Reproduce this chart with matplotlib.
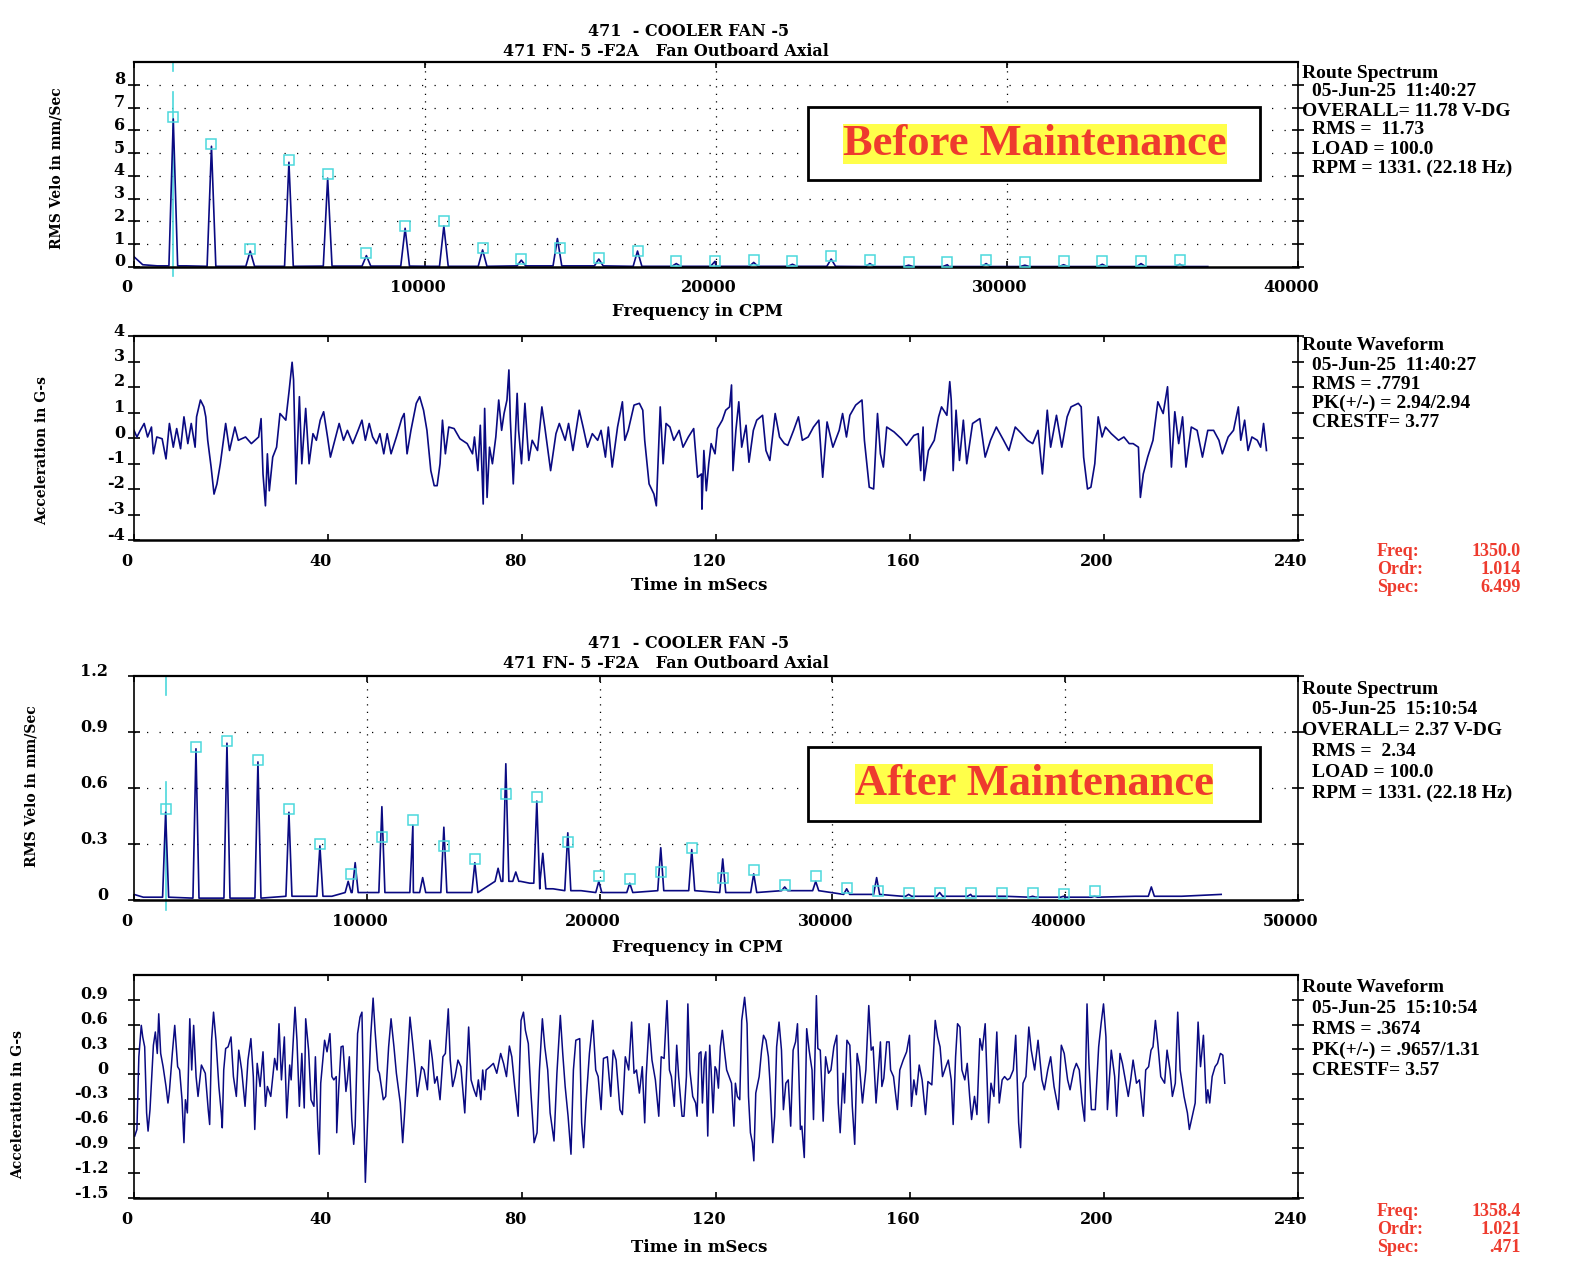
import matplotlib
matplotlib.use("Agg")
import matplotlib.pyplot as plt
from matplotlib.patches import Rectangle
from matplotlib.transforms import ScaledTranslation

# ---- spectrum before maintenance (CPM, in/sec) ----
BEFORE_PEAK_CPM = [1350, 2662, 3993, 5324, 6655, 7986, 9317, 10648, 11979, 13310, 14550, 15972, 17303, 18634,
                   19965, 21296, 22627, 23958, 25289, 26620, 27951, 29282, 30613, 31944, 33275, 34606, 35937]
BEFORE_PEAK_AMP = [6.5, 5.3, 0.7, 4.6, 3.9, 0.5, 1.7, 1.8, 0.75, 0.3, 1.25, 0.35, 0.7, 0.15,
                   0.25, 0.2, 0.12, 0.35, 0.15, 0.08, 0.1, 0.15, 0.08, 0.1, 0.12, 0.15, 0.12]
BEFORE_MARK_CPM = [1350, 2662, 3993, 5324, 6655, 7986, 9317, 10648, 11979, 13310, 14641, 15972, 17303, 18634,
                   19965, 21296, 22627, 23958, 25289, 26620, 27951, 29282, 30613, 31944, 33275, 34606, 35937]
BEFORE_MARK_AMP = [6.6, 5.4, 0.8, 4.7, 4.1, 0.6, 1.8, 2.0, 0.85, 0.35, 0.85, 0.4, 0.7, 0.25,
                   0.25, 0.3, 0.26, 0.47, 0.32, 0.22, 0.22, 0.32, 0.22, 0.26, 0.26, 0.26, 0.32]
BEFORE_FLOOR_CPM = [0, 300, 800, 1800, 3500, 8500, 10200, 14000, 20000, 28000, 36900]
BEFORE_FLOOR_AMP = [0.45, 0.1, 0.05, 0.05, 0.03, 0.04, 0.03, 0.05, 0.03, 0.02, 0.02]

# ---- spectrum after maintenance ----
AFTER_PEAK_CPM = [1358, 2662, 3993, 5324, 6655, 7986, 9200, 9500, 10648, 11979, 12400, 13310, 14641, 15640,
                  15972, 16400, 17303, 17560, 18634, 19965, 21296, 22627, 23958, 25289, 26620, 27951, 29282,
                  30613, 31900, 33275, 34606, 35937, 37268, 38599, 39930, 41261, 43700]
AFTER_PEAK_AMP = [0.47, 0.81, 0.84, 0.74, 0.47, 0.29, 0.1, 0.2, 0.5, 0.4, 0.12, 0.39, 0.2, 0.17,
                  0.73, 0.15, 0.53, 0.25, 0.36, 0.1, 0.09, 0.28, 0.27, 0.22, 0.14, 0.07, 0.1,
                  0.06, 0.12, 0.03, 0.04, 0.03, 0.02, 0.02, 0.02, 0.02, 0.07]
AFTER_MARK_CPM = [1358, 2662, 3993, 5324, 6655, 7986, 9317, 10648, 11979, 13310, 14641, 15972, 17303, 18634,
                  19965, 21296, 22627, 23958, 25289, 26620, 27951, 29282, 30613, 31944, 33275, 34606, 35937,
                  37268, 38599, 39930, 41261]
AFTER_MARK_AMP = [0.49, 0.82, 0.85, 0.75, 0.49, 0.3, 0.14, 0.34, 0.43, 0.29, 0.22, 0.57, 0.55, 0.31,
                  0.13, 0.11, 0.15, 0.28, 0.12, 0.16, 0.08, 0.13, 0.065, 0.05, 0.036, 0.036, 0.04,
                  0.036, 0.036, 0.03, 0.05]
AFTER_FLOOR_CPM = [0, 400, 3000, 8500, 9800, 12000, 14500, 16600, 17000, 18000, 19200, 20500, 23000, 26000,
                   29000, 31000, 33000, 36000, 40000, 43000, 45000, 46700]
AFTER_FLOOR_AMP = [0.03, 0.015, 0.01, 0.02, 0.04, 0.04, 0.04, 0.1, 0.09, 0.06, 0.05, 0.04, 0.05, 0.04,
                   0.05, 0.03, 0.02, 0.02, 0.015, 0.02, 0.02, 0.03]

# ---- waveform before maintenance (ms, G-s) ----
BEFORE_T = [0.0, 0.6, 1.3, 2.1, 2.8, 3.6, 4.0, 4.7, 5.8, 6.6, 7.3, 8.1, 8.8, 9.6, 10.3, 11.1, 11.8, 12.6, 12.9,
            13.7, 14.4, 14.8, 15.2, 15.9, 16.5, 17.1, 17.8, 18.9, 19.7, 20.8, 21.5, 23.0, 24.2, 25.7, 26.2, 26.6,
            27.1, 27.5, 27.9, 28.6, 29.4, 30.1, 31.3, 32.0, 32.6, 32.9, 33.4, 33.7, 34.1, 34.6, 35.4, 36.1, 36.9,
            37.6, 38.4, 39.1, 39.9, 40.5, 41.4, 42.3, 43.2, 44.0, 45.1, 46.2, 47.0, 47.7, 48.5, 49.2, 50.0, 50.7,
            51.5, 52.2, 53.0, 54.1, 55.2, 55.7, 56.3, 57.1, 58.2, 58.9, 59.7, 60.4, 61.2, 61.9, 62.5, 63.1, 63.6,
            64.2, 64.9, 66.0, 67.2, 68.7, 69.8, 70.2, 70.9, 71.4, 72.0, 72.3, 72.8, 73.3, 73.9, 74.6, 75.2, 75.8,
            76.3, 76.9, 77.3, 77.6, 78.2, 79.0, 79.3, 79.9, 80.6, 81.4, 82.1, 83.2, 84.1, 84.7, 85.9, 87.0, 87.7,
            88.9, 89.6, 90.5, 91.8, 92.6, 93.5, 94.5, 95.6, 96.3, 97.2, 97.8, 98.6, 99.7, 100.7, 101.2, 101.9,
            103.1, 104.2, 104.9, 105.3, 106.2, 107.2, 107.7, 108.5, 109.1, 109.7, 110.5, 111.3, 112.4, 113.2,
            114.3, 115.4, 116.2, 117.0, 117.1, 117.5, 118.0, 118.5, 119.0, 119.8, 120.3, 121.3, 122.0, 122.8,
            123.2, 123.5, 124.1, 124.7, 125.3, 126.2, 126.8, 127.7, 128.4, 129.6, 130.3, 131.1, 132.2, 133.1,
            134.1, 134.8, 136.0, 137.0, 137.8, 139.0, 140.1, 141.2, 142.0, 142.9, 144.1, 145.4, 146.1, 146.9,
            147.6, 148.8, 150.1, 150.6, 151.6, 152.5, 153.3, 153.9, 154.5, 155.2, 156.7, 158.2, 159.3, 160.8,
            161.7, 162.2, 162.7, 162.9, 163.8, 165.0, 165.9, 166.5, 167.6, 168.2, 168.5, 168.9, 169.5, 170.2,
            171.0, 171.7, 172.9, 174.4, 175.5, 176.6, 177.8, 179.3, 180.4, 181.7, 183.0, 184.2, 185.3, 186.4,
            187.3, 188.3, 189.0, 190.2, 191.3, 192.4, 193.2, 194.7, 195.3, 195.8, 196.6, 197.3, 198.1, 198.8,
            199.6, 200.3, 201.5, 203.0, 204.1, 205.2, 206.0, 207.1, 207.5, 208.1, 209.0, 210.1, 211.1, 212.2,
            213.1, 213.9, 214.6, 215.4, 216.2, 216.9, 218.0, 219.2, 220.3, 221.4, 222.6, 223.7, 224.4, 225.6,
            226.7, 227.7, 228.2, 229.0, 229.7, 230.5, 231.6, 232.3, 232.9, 233.5]
BEFORE_G = [0.3, 0.04, 0.3, 0.57, 0.04, 0.43, -0.62, 0.04, -0.03, -0.82, 0.57, -0.36, 0.37, -0.42, 0.83, -0.22,
            0.57, -0.36, 0.83, 1.49, 1.22, 0.83, -0.09, -1.14, -2.2, -1.8, -1.01, 0.57, -0.49, 0.43, -0.09, 0.04,
            -0.22, 0.04, 0.76, -1.41, -2.66, -0.62, -2.07, -0.75, -0.36, 0.96, 0.7, 1.88, 2.97, 2.28, -1.8, -0.36,
            1.62, -1.01, 1.16, -1.01, 0.17, -0.09, 0.7, 1.03, 0.04, -0.75, -0.09, 0.57, -0.09, 0.3, -0.22, 0.3,
            0.7, -0.09, 0.57, 0.04, -0.22, 0.17, -0.62, 0.17, -0.62, 0.04, 0.76, 0.96, -0.62, 0.3, 1.36, 1.62,
            1.09, 0.3, -1.28, -1.87, -1.87, -1.01, 0.7, -0.62, 0.43, 0.37, -0.03, -0.22, -0.62, 0.04, -1.28, 0.5,
            -2.59, 1.16, -2.33, -0.36, -1.01, 0.04, 1.49, 0.3, 0.96, 1.49, 2.67, 0.7, -1.8, 1.75, 0.3, -1.01,
            1.36, -0.88, -0.09, -0.49, 1.22, 0.43, -1.28, 0.17, 0.57, -0.09, 0.57, -0.49, 1.09, 0.43, -0.36,
            0.17, -0.09, 0.3, -0.75, 0.43, -1.14, 0.43, 1.42, -0.09, 0.3, 1.29, 1.36, 1.09, -0.09, -1.8, -2.2,
            -2.66, 1.22, -1.01, 0.57, 0.43, -0.09, 0.3, -0.36, 0.04, 0.37, -1.54, -1.41, -2.79, -0.49, -2.07,
            -1.01, -0.22, -0.62, 0.37, 0.7, 1.09, 1.22, 2.08, -1.28, 0.3, 1.42, -0.36, 0.5, -0.95, 0.3, 0.7,
            0.89, -0.49, -0.88, 0.96, 0.04, -0.22, -0.29, 0.3, 0.83, -0.09, 0.04, 0.43, 0.7, -1.54, 0.63, -0.36,
            0.3, 0.96, 0.04, 0.89, 1.29, 1.49, -0.09, -1.93, -2.0, 0.96, -0.62, -1.14, 0.43, 0.24, -0.03, -0.29,
            0.1, 0.17, -1.28, 0.43, -1.67, -0.49, -0.09, 0.83, 1.22, 0.89, 2.21, 1.49, -1.28, 1.09, -0.88, 0.7,
            -1.01, 0.57, 0.76, -0.75, -0.09, 0.43, -0.09, -0.49, 0.43, 0.17, -0.09, -0.22, 0.3, -1.41, 1.09,
            -0.36, 0.89, -0.36, 0.83, 1.22, 1.36, 1.22, -0.75, -2.0, -1.93, -1.01, 0.83, 0.04, 0.43, 0.17, -0.09,
            0.04, -0.22, -0.22, -0.36, -2.33, -1.41, -0.75, -0.09, 1.42, 0.96, 2.01, -1.14, 1.03, -0.22, 0.83,
            -1.14, 0.43, 0.3, -0.75, 0.3, 0.3, -0.09, -0.62, 0.04, 0.3, 1.22, -0.09, 0.7, -0.49, 0.04, -0.09,
            -0.36, 0.57, -0.49]

# ---- waveform after maintenance (ms, G-s) ----
AFTER_T = [0.15, 0.6, 1.0, 1.5, 1.8, 2.2, 2.6, 2.9, 3.3, 4.0, 4.4, 4.8, 5.1, 5.5, 6.0, 6.6, 7.0, 7.3, 7.9, 8.4,
           9.0, 9.4, 9.9, 10.3, 10.6, 11.0, 11.5, 11.9, 12.3, 12.8, 13.2, 13.9, 14.7, 15.3, 15.6, 16.0, 16.4,
           16.9, 17.5, 18.0, 18.2, 18.5, 18.9, 19.4, 20.0, 20.5, 21.1, 21.6, 22.2, 22.9, 23.5, 24.1, 24.6, 24.9,
           25.4, 26.0, 26.6, 27.1, 27.5, 28.2, 29.0, 29.5, 29.9, 30.4, 31.0, 31.5, 32.1, 32.4, 33.2, 33.6, 34.1,
           34.6, 35.1, 35.4, 36.0, 36.5, 37.1, 37.4, 37.9, 38.2, 38.5, 39.3, 39.8, 40.4, 40.8, 41.2, 41.7, 41.8,
           42.2, 42.7, 43.1, 43.7, 44.0, 44.4, 44.9, 45.3, 45.6, 46.1, 46.6, 47.0, 47.3, 47.7, 48.3, 48.8, 49.3,
           49.7, 50.3, 50.6, 51.4, 51.9, 52.5, 53.0, 53.6, 54.1, 54.9, 55.4, 55.8, 56.3, 56.9, 57.4, 58.0, 58.4,
           58.8, 59.3, 59.8, 60.5, 61.0, 61.5, 62.0, 62.5, 63.1, 63.7, 64.2, 64.8, 65.2, 65.7, 66.2, 66.8, 67.4,
           68.2, 69.0, 69.5, 70.1, 70.6, 71.0, 71.5, 71.9, 72.3, 72.6, 73.4, 74.1, 74.8, 75.6, 76.2, 76.8, 77.4,
           77.9, 78.5, 79.2, 79.8, 80.3, 80.7, 81.3, 81.8, 82.5, 83.1, 83.6, 84.2, 84.7, 85.3, 85.8, 86.6, 87.2,
           87.9, 88.4, 88.9, 89.5, 90.1, 90.6, 91.1, 91.9, 92.3, 92.7, 93.2, 93.9, 94.6, 95.2, 95.7, 96.3, 96.8,
           97.6, 98.3, 98.8, 99.4, 100.2, 100.7, 101.3, 102.0, 102.6, 103.1, 103.6, 104.2, 104.8, 105.3, 105.6,
           106.2, 106.8, 107.5, 108.2, 108.7, 109.3, 109.9, 110.4, 110.8, 111.4, 111.9, 112.3, 113.0, 113.4,
           113.9, 114.2, 114.6, 115.2, 115.8, 116.1, 116.5, 116.9, 117.2, 117.6, 117.9, 118.3, 118.7, 119.0,
           119.4, 119.8, 120.1, 120.5, 120.9, 121.3, 121.8, 122.2, 122.7, 123.2, 123.7, 124.0, 124.4, 124.9,
           125.3, 125.9, 126.4, 126.7, 127.1, 127.5, 127.8, 128.2, 128.9, 129.4, 129.8, 130.3, 130.8, 131.1,
           131.7, 132.1, 132.5, 133.0, 133.5, 133.9, 134.4, 134.9, 135.4, 135.9, 136.4, 136.8, 137.4, 137.7,
           138.2, 138.7, 139.2, 139.8, 140.1, 140.7, 141.0, 141.5, 142.1, 142.6, 143.2, 143.7, 144.3, 144.9,
           145.2, 145.6, 146.2, 146.5, 147.0, 147.6, 148.1, 148.6, 149.1, 149.6, 150.2, 150.9, 151.5, 152.0,
           152.4, 153.0, 153.5, 153.9, 154.2, 154.6, 155.2, 155.7, 156.0, 156.6, 157.4, 157.9, 158.6, 159.3,
           159.9, 160.3, 160.8, 161.3, 161.9, 162.5, 163.2, 163.7, 164.5, 164.8, 165.2, 165.7, 166.2, 166.7,
           167.4, 167.9, 168.5, 168.9, 169.4, 169.8, 170.3, 170.7, 171.3, 171.8, 172.3, 172.7, 173.3, 173.8,
           174.4, 174.9, 175.5, 176.2, 176.7, 177.3, 177.9, 178.4, 179.0, 179.5, 180.1, 180.6, 181.3, 181.8,
           182.4, 182.8, 183.3, 183.9, 184.5, 185.0, 185.7, 186.4, 187.2, 187.7, 188.4, 189.0, 189.7, 190.6,
           191.2, 191.8, 192.5, 193.0, 193.8, 194.3, 194.9, 195.5, 196.0, 196.5, 196.9, 197.4, 198.2, 198.9,
           199.4, 199.9, 200.4, 200.7, 201.5, 202.2, 202.6, 203.3, 203.8, 204.4, 205.0, 205.5, 206.0, 206.7,
           207.3, 208.1, 208.6, 209.2, 209.7, 210.1, 210.6, 211.1, 211.7, 212.5, 213.0, 213.6, 214.1, 214.7,
           215.2, 215.7, 216.5, 217.2, 217.6, 218.2, 218.8, 219.4, 219.9, 220.5, 221.1, 221.4, 221.8, 222.3,
           222.9, 223.4, 224.0, 224.5, 224.9]
AFTER_G = [-0.75, -0.67, 0.21, 0.59, 0.45, 0.33, -0.47, -0.69, -0.43, 0.35, 0.51, 0.25, 0.73, 0.25, 0.09, -0.15,
           -0.35, -0.21, 0.25, 0.59, 0.09, 0.05, -0.31, -0.83, -0.31, -0.47, 0.67, 0.05, 0.59, -0.03, -0.27,
           0.11, 0.01, -0.43, -0.61, 0.41, 0.75, 0.41, -0.15, -0.47, -0.65, 0.05, 0.31, 0.33, 0.45, -0.03,
           -0.27, 0.29, 0.05, -0.39, 0.17, 0.43, -0.03, -0.67, 0.13, -0.15, 0.27, -0.39, -0.15, -0.27, 0.19,
           0.05, 0.61, -0.07, 0.45, -0.53, 0.11, -0.07, 0.81, 0.41, -0.39, 0.25, -0.41, 0.67, 0.29, -0.31,
           -0.39, 0.21, -0.63, -0.97, -0.11, 0.41, 0.27, 0.49, -0.03, -0.07, -0.03, -0.71, -0.19, 0.33, 0.34,
           -0.21, -0.07, 0.21, -0.55, -0.85, -0.63, 0.49, 0.69, 0.75, -0.19, -1.31, -0.35, 0.45, 0.92, 0.53,
           0.05, 0.01, -0.31, -0.27, 0.33, 0.67, 0.33, 0.01, -0.35, -0.83, -0.47, 0.05, 0.69, 0.41, 0.05, -0.27,
           -0.11, 0.09, 0.05, -0.19, 0.41, 0.19, -0.11, -0.03, -0.31, 0.21, 0.25, 0.79, 0.17, -0.15, -0.03,
           0.17, 0.09, -0.47, 0.57, -0.07, -0.19, -0.27, -0.07, -0.31, 0.05, -0.19, 0.05, 0.09, 0.13, 0.01,
           0.25, 0.13, -0.03, 0.34, 0.21, -0.15, -0.51, 0.65, 0.75, 0.53, 0.37, -0.19, -0.83, -0.71, 0.05,
           0.67, 0.33, 0.05, -0.47, -0.81, 0.01, 0.71, 0.25, -0.15, -0.51, -0.97, 0.05, 0.41, 0.43, -0.59,
           -0.89, -0.35, 0.25, 0.65, 0.05, -0.03, -0.43, 0.19, 0.21, -0.27, 0.29, 0.17, -0.43, -0.49, 0.21,
           0.05, 0.63, 0.01, 0.05, -0.23, 0.09, -0.59, -0.03, 0.61, 0.17, -0.07, -0.51, 0.21, 0.19, 0.89, 0.05,
           -0.03, -0.39, 0.35, -0.03, -0.51, -0.51, -0.03, 0.85, 0.05, -0.27, -0.35, -0.51, 0.25, 0.27, -0.35,
           0.17, 0.27, -0.75, 0.35, 0.05, -0.47, 0.09, 0.05, -0.17, 0.33, 0.53, 0.25, 0.05, -0.03, -0.11, -0.63,
           -0.11, -0.27, -0.31, 0.65, 0.93, 0.61, -0.27, -0.71, -0.83, -1.05, -0.23, -0.03, 0.29, 0.47, 0.41,
           0.21, -0.07, -0.83, -0.51, 0.33, 0.63, 0.29, -0.43, -0.11, -0.07, -0.63, 0.29, 0.39, 0.61, -0.67,
           -0.63, -1.01, 0.55, 0.29, 0.05, -0.55, 0.95, 0.31, 0.29, -0.57, 0.21, 0.01, 0.05, 0.33, 0.47, -0.35,
           -0.71, 0.01, -0.35, 0.41, 0.35, -0.39, -0.85, 0.25, 0.09, -0.35, 0.05, 0.83, 0.29, 0.33, -0.35, 0.05,
           0.39, -0.15, -0.05, 0.39, 0.39, 0.05, -0.03, -0.43, 0.05, 0.17, 0.27, 0.47, -0.39, -0.07, -0.25,
           0.11, -0.07, -0.49, -0.09, -0.13, 0.21, 0.65, 0.45, 0.33, -0.03, 0.09, 0.17, -0.07, -0.61, 0.21, 0.61,
           0.57, 0.05, -0.07, 0.13, -0.27, -0.55, -0.27, -0.49, 0.43, 0.29, 0.61, -0.59, -0.11, -0.27, 0.51,
           -0.35, -0.07, -0.03, -0.07, -0.05, 0.05, 0.47, -0.59, -0.89, -0.11, -0.03, 0.57, 0.29, 0.05, 0.41,
           -0.07, -0.19, 0.05, 0.21, -0.15, -0.43, 0.35, 0.25, -0.07, -0.19, 0.05, 0.13, 0.05, -0.35, -0.57,
           0.85, 0.13, -0.43, -0.43, 0.33, 0.61, 0.85, 0.45, -0.43, 0.29, -0.03, -0.51, 0.25, 0.13, -0.07,
           -0.27, -0.07, 0.17, -0.11, -0.07, -0.51, 0.05, 0.09, 0.29, 0.33, 0.65, 0.37, -0.03, -0.11, 0.29,
           0.05, -0.27, -0.11, 0.75, 0.05, -0.27, -0.47, -0.67, -0.51, -0.35, 0.63, 0.09, 0.47, -0.35, -0.19,
           -0.35, -0.03, 0.09, 0.13, 0.25, 0.23, -0.11]

SPEC_X_TICKS_1 = [0, 10000, 20000, 30000, 40000]
SPEC_Y_TICKS_1 = [0, 1, 2, 3, 4, 5, 6, 7, 8]
WAVE_Y_TICKS_1 = [-4, -3, -2, -1, 0, 1, 2, 3, 4]
SPEC_X_TICKS_2 = [0, 10000, 20000, 30000, 40000, 50000]
SPEC_Y_TICKS_2 = [0, 0.3, 0.6, 0.9, 1.2]
SPEC_Y_LABELS_2 = ['0', '0.3', '0.6', '0.9', '1.2']
WAVE_Y_TICKS_2 = [-1.5, -1.2, -0.9, -0.6, -0.3, 0, 0.3, 0.6, 0.9]
WAVE_Y_LABELS_2 = ['-1.5', '-1.2', '-0.9', '-0.6', '-0.3', '0', '0.3', '0.6', '0.9']
TIME_TICKS = [0, 40, 80, 120, 160, 200, 240]

INFO_BEFORE_SPEC = ['Route Spectrum', ' 05-Jun-25  11:40:27', 'OVERALL= 11.78 V-DG', ' RMS =  11.73',
                    ' LOAD = 100.0', ' RPM = 1331. (22.18 Hz)']
INFO_BEFORE_WAVE = ['Route Waveform', ' 05-Jun-25  11:40:27', ' RMS = .7791', ' PK(+/-) = 2.94/2.94',
                    ' CRESTF= 3.77']
INFO_AFTER_SPEC = ['Route Spectrum', ' 05-Jun-25  15:10:54', 'OVERALL= 2.37 V-DG', ' RMS =  2.34',
                   ' LOAD = 100.0', ' RPM = 1331. (22.18 Hz)']
INFO_AFTER_WAVE = ['Route Waveform', ' 05-Jun-25  15:10:54', ' RMS = .3674', ' PK(+/-) = .9657/1.31',
                   ' CRESTF= 3.57']
CURSOR_BEFORE = ['1350.0', '1.014', '6.499']
CURSOR_AFTER = ['1358.4', '1.021', '.471']

W, H = 1584, 1278
NAVY = '#0a0a82'
CYAN = '#4cd8dc'
RED = '#ee3b2e'

plt.rcParams['font.family'] = ['DejaVu Serif']
plt.rcParams['font.weight'] = 'bold'
plt.rcParams['axes.labelweight'] = 'bold'

fig = plt.figure(figsize=(W / 100, H / 100), dpi=100)


def fx(x):
    return x / W


def fy(y):
    return 1 - y / H


def panel(top, bottom):
    return fig.add_axes([fx(134), fy(bottom), 1164 / W, (bottom - top) / H])


def spectrum_line(peak_f, peak_a, floor_f, floor_a, half_width):
    pts = list(zip(floor_f, floor_a))
    for f, a in zip(peak_f, peak_a):
        i = min(range(len(floor_f)), key=lambda k: abs(floor_f[k] - f))
        pts += [(f - half_width, floor_a[i]), (f, a), (f + half_width, floor_a[i])]
    pts.sort()
    return [p[0] for p in pts], [p[1] for p in pts]


def style(ax, xticks, yticks, ylabels, label_pad):
    ax.set_xticks(xticks)
    ax.set_xticklabels([str(t) for t in xticks])
    ax.set_yticks(yticks)
    ax.set_yticklabels(ylabels)
    ax.tick_params(axis='x', direction='in', length=4, width=1.2, top=True, bottom=True,
                   labelsize=11.5, pad=9)
    ax.tick_params(axis='y', direction='inout', length=9, width=1.2, left=True, right=True,
                   labelsize=11.5, pad=label_pad)
    for s in ax.spines.values():
        s.set_linewidth(1.2)
    ax.spines['bottom'].set_linewidth(1.8)
    ax.spines['top'].set_linewidth(1.6)
    shift_x = ScaledTranslation(-0.07, 0, fig.dpi_scale_trans)
    shift_y = ScaledTranslation(0, 0.07, fig.dpi_scale_trans)
    for lbl in ax.get_xticklabels():
        lbl.set_transform(lbl.get_transform() + shift_x)
    for lbl in ax.get_yticklabels():
        lbl.set_transform(lbl.get_transform() + shift_y)


def dotted_grid(ax, xs, ys):
    for y in ys:
        ax.axhline(y, color='black', lw=0.9, ls=(0, (1, 9)), zorder=0)
    for x in xs:
        ax.axvline(x, color='black', lw=0.9, ls=(0, (1, 5)), zorder=0)


def ylab(ax, text, x_px, y_frac):
    ax.set_ylabel(text, fontsize=10, fontweight='bold', va='center')
    ax.yaxis.set_label_coords((x_px - 134) / 1164, y_frac)


def info(lines, y0, step):
    for i, line in enumerate(lines):
        x = 1302 if not line.startswith(' ') else 1312
        fig.text(fx(x), fy(y0 + i * step), line.strip(), family='Liberation Serif', weight='bold',
                 fontsize=14, va='center', ha='left')


def cursor_text(values, y0):
    for i, (name, val) in enumerate(zip(['Freq:', 'Ordr:', 'Spec:'], values)):
        fig.text(fx(1377), fy(y0 + i * 17.5), name, color=RED, family='Liberation Serif',
                 weight='bold', fontsize=13, va='center', ha='left')
        fig.text(fx(1521), fy(y0 + i * 17.5), val, color=RED, family='Liberation Serif',
                 weight='bold', fontsize=13, va='center', ha='right')


def titles(y1, y2):
    fig.text(fx(689), fy(y1), '471  - COOLER FAN -5', ha='center', va='center', fontsize=11.5)
    fig.text(fx(666), fy(y2), '471 FN- 5 -F2A   Fan Outboard Axial', ha='center', va='center', fontsize=11.5)


def banner(text, box, center):
    x0, y0, x1, y1 = box
    fig.patches.append(Rectangle((fx(x0), fy(y1)), (x1 - x0) / W, (y1 - y0) / H, transform=fig.transFigure,
                                 facecolor='white', edgecolor='black', lw=2, zorder=5))
    fig.text(fx(center[0]), fy(center[1]), text, color=RED, family='Liberation Serif', weight='bold',
             fontsize=32, ha='center', va='center', zorder=6,
             bbox=dict(facecolor='#ffff4a', edgecolor='none', boxstyle='square,pad=0'))


# ---- panel 1: spectrum before ----
ax1 = panel(62, 267)
fx1, fa1 = spectrum_line(BEFORE_PEAK_CPM, BEFORE_PEAK_AMP, BEFORE_FLOOR_CPM, BEFORE_FLOOR_AMP, 150)
ax1.plot([1350, 1350], [9, 8.6], color=CYAN, lw=1.2, zorder=1)
ax1.plot([1350, 1350], [7.7, -0.4], color=CYAN, lw=1.2, zorder=1, clip_on=False)
ax1.plot(fx1, fa1, color=NAVY, lw=1.2, zorder=2)
ax1.plot(BEFORE_MARK_CPM, BEFORE_MARK_AMP, ls='none', marker='s', ms=7.5, mfc='none', mec=CYAN, mew=1.1,
         zorder=3)
ax1.set_xlim(0, 40000)
ax1.set_ylim(0, 9)
dotted_grid(ax1, [10000, 20000, 30000], SPEC_Y_TICKS_1[1:])
style(ax1, SPEC_X_TICKS_1, SPEC_Y_TICKS_1, [str(t) for t in SPEC_Y_TICKS_1], 2)
ylab(ax1, 'RMS Velo in mm/Sec', 57, 0.48)
titles(32, 51)
fig.text(fx(697), fy(311), 'Frequency in CPM', ha='center', va='center', fontsize=12)
info(INFO_BEFORE_SPEC, 73, 19)
banner('Before Maintenance', (808, 107, 1260, 180), (1035, 144))

# ---- panel 2: waveform before ----
ax2 = panel(336, 540)
ax2.plot(BEFORE_T, BEFORE_G, color=NAVY, lw=1.2)
ax2.set_xlim(0, 240)
ax2.set_ylim(-4, 4)
style(ax2, TIME_TICKS, WAVE_Y_TICKS_1, [str(t) for t in WAVE_Y_TICKS_1], 2)
ylab(ax2, 'Acceleration in G-s', 42, 0.44)
fig.text(fx(699), fy(585), 'Time in mSecs', ha='center', va='center', fontsize=12)
info(INFO_BEFORE_WAVE, 346, 19.2)
cursor_text(CURSOR_BEFORE, 552)

# ---- panel 3: spectrum after ----
ax3 = panel(676, 900)
fx3, fa3 = spectrum_line(AFTER_PEAK_CPM, AFTER_PEAK_AMP, AFTER_FLOOR_CPM, AFTER_FLOOR_AMP, 130)
ax3.plot([1358, 1358], [1.2, 1.1], color=CYAN, lw=1.2, zorder=1)
ax3.plot([1358, 1358], [0.63, -0.055], color=CYAN, lw=1.2, zorder=1, clip_on=False)
ax3.plot(fx3, fa3, color=NAVY, lw=1.2, zorder=2)
ax3.plot(AFTER_MARK_CPM, AFTER_MARK_AMP, ls='none', marker='s', ms=7.5, mfc='none', mec=CYAN, mew=1.1,
         zorder=3)
ax3.set_xlim(0, 50000)
ax3.set_ylim(0, 1.2)
dotted_grid(ax3, [10000, 20000, 30000, 40000], [0.3, 0.6, 0.9])
style(ax3, SPEC_X_TICKS_2, SPEC_Y_TICKS_2, SPEC_Y_LABELS_2, 14)
ylab(ax3, 'RMS Velo in mm/Sec', 32, 0.51)
titles(643, 664)
fig.text(fx(697), fy(948), 'Frequency in CPM', ha='center', va='center', fontsize=12)
info(INFO_AFTER_SPEC, 689, 20.8)
banner('After Maintenance', (808, 747, 1260, 821), (1034, 784))

# ---- panel 4: waveform after ----
ax4 = panel(975, 1198)
ax4.plot(AFTER_T, AFTER_G, color=NAVY, lw=1.1)
ax4.set_xlim(0, 240)
ax4.set_ylim(-1.5, 1.2)
style(ax4, TIME_TICKS, WAVE_Y_TICKS_2, WAVE_Y_LABELS_2, 14)
ylab(ax4, 'Acceleration in G-s', 18, 0.42)
fig.text(fx(699), fy(1248), 'Time in mSecs', ha='center', va='center', fontsize=12)
info(INFO_AFTER_WAVE, 988, 20.7)
cursor_text(CURSOR_AFTER, 1212)

fig.savefig('out.png', dpi=100)
